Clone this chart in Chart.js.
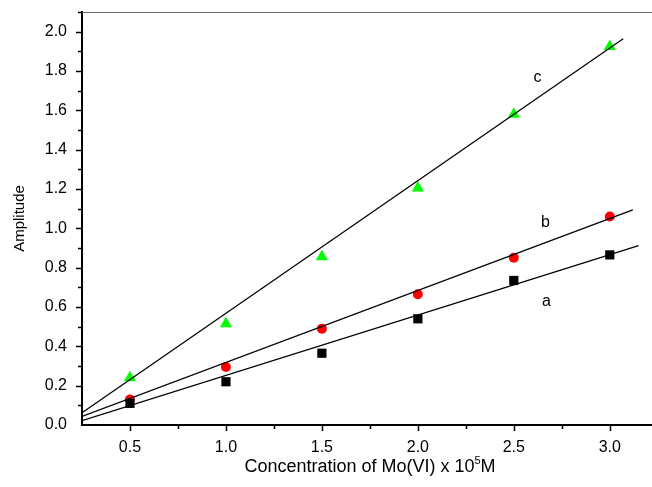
<!DOCTYPE html>
<html>
<head>
<meta charset="utf-8">
<script src="https://cdn.jsdelivr.net/npm/chart.js@4.4.0/dist/chart.umd.min.js"></script>
<style>
  html, body { margin: 0; padding: 0; background: #fff; overflow: hidden; }
  #wrap { width: 652px; height: 487px; position: relative; }
</style>
</head>
<body>
<div id="wrap"><canvas id="myChart"></canvas></div>
<script>
// values
const conc = [0.5, 1.0, 1.5, 2.0, 2.5, 3.0];
const ampA = [0.11, 0.22, 0.365, 0.54, 0.735, 0.865];
const ampB = [0.13, 0.295, 0.49, 0.665, 0.85, 1.06];
const ampC = [0.24, 0.515, 0.855, 1.205, 1.58, 1.925];

// fitted lines, end points (a, b, c)
const fitX0 = [0.25, 0.25, 0.25];
const fitY0 = [0.022, 0.044, 0.062];
const fitX1 = [3.15, 3.12, 3.07];
const fitY1 = [0.912, 1.094, 1.964];

const curveNames = ['a', 'b', 'c'];
const curveLabelX = [2.67, 2.665, 2.623];
const curveLabelY = [0.629, 1.027, 1.768];

const xTitle = 'Concentration of Mo(VI) x 10';
const xTitleSup = '5';
const xTitleEnd = 'M';

const FONT = '"Liberation Sans", Arial, sans-serif';

function pts(xs, ys) {
    return xs.map((x, i) => ({ x: x, y: ys[i] }));
}

// tick marks, curve letters, top frame line and x title
const extras = {
    id: 'extras',
    afterDraw(chart) {
        const c = chart.ctx;
        const area = chart.chartArea;
        const xs = chart.scales.x, ys = chart.scales.y;
        c.save();
        c.strokeStyle = '#000';
        c.lineWidth = 1.5;
        xs.ticks.forEach(t => {
            const px = Math.round(xs.getPixelForValue(t.value)) + 0.5;
            if (px <= area.left + 1) return;
            const len = t.label ? 6 : 4;
            c.beginPath();
            c.moveTo(px, area.bottom);
            c.lineTo(px, area.bottom + len);
            c.stroke();
        });
        ys.ticks.forEach(t => {
            const py = Math.round(ys.getPixelForValue(t.value)) + 0.5;
            if (py >= area.bottom - 1) return;
            const len = t.label ? 6 : 4;
            c.beginPath();
            c.moveTo(area.left, py);
            c.lineTo(area.left - len, py);
            c.stroke();
        });
        // top frame
        c.strokeStyle = '#666';
        c.lineWidth = 1;
        c.beginPath();
        c.moveTo(area.left, area.top + 0.5);
        c.lineTo(area.right, area.top + 0.5);
        c.stroke();

        c.fillStyle = '#000';
        c.font = '16px ' + FONT;
        c.textAlign = 'center';
        c.textBaseline = 'middle';
        curveNames.forEach((n, i) => {
            c.fillText(n, xs.getPixelForValue(curveLabelX[i]), ys.getPixelForValue(curveLabelY[i]));
        });

        // x title with superscript
        c.textAlign = 'left';
        c.textBaseline = 'alphabetic';
        const big = '18px ' + FONT, small = '11px ' + FONT;
        c.font = big;
        const w1 = c.measureText(xTitle).width;
        const w3 = c.measureText(xTitleEnd).width;
        c.font = small;
        const w2 = c.measureText(xTitleSup).width;
        let x0 = 370 - (w1 + w2 + w3) / 2;
        const base = 472;
        c.font = big;
        c.fillText(xTitle, x0, base);
        c.font = small;
        c.fillText(xTitleSup, x0 + w1, base - 8);
        c.font = big;
        c.fillText(xTitleEnd, x0 + w1 + w2, base);
        c.restore();
    }
};

const lineStyle = {
    showLine: true,
    borderColor: '#000',
    borderWidth: 1.3,
    pointRadius: 0,
    fill: false,
    order: 0
};

const ctx = document.getElementById('myChart').getContext('2d');
const myChart = new Chart(ctx, {
    type: 'scatter',
    data: {
        datasets: [
            { label: 'a', data: pts(conc, ampA), pointStyle: 'rect', pointRadius: 6.5,
              backgroundColor: '#000', borderColor: '#000', borderWidth: 0, order: 1 },
            { label: 'b', data: pts(conc, ampB), pointStyle: 'circle', pointRadius: 5,
              backgroundColor: '#ff0000', borderColor: '#ff0000', borderWidth: 0, order: 1 },
            { label: 'c', data: pts(conc, ampC), pointStyle: 'triangle', pointRadius: 7,
              backgroundColor: '#00ff00', borderColor: '#00ff00', borderWidth: 0, order: 1 },
            Object.assign({ label: 'fit a', data: [{ x: fitX0[0], y: fitY0[0] }, { x: fitX1[0], y: fitY1[0] }] }, lineStyle),
            Object.assign({ label: 'fit b', data: [{ x: fitX0[1], y: fitY0[1] }, { x: fitX1[1], y: fitY1[1] }] }, lineStyle),
            Object.assign({ label: 'fit c', data: [{ x: fitX0[2], y: fitY0[2] }, { x: fitX1[2], y: fitY1[2] }] }, lineStyle)
        ]
    },
    options: {
        responsive: true,
        maintainAspectRatio: false,
        animation: false,
        layout: { autoPadding: false, padding: { top: 12, right: 0, bottom: 0, left: 0 } },
        plugins: {
            legend: { display: false },
            tooltip: { enabled: false }
        },
        scales: {
            x: {
                type: 'linear',
                min: 0.25,
                max: 3.22,
                border: { display: true, color: '#000', width: 2 },
                grid: { display: true, drawOnChartArea: false, drawTicks: false },
                ticks: {
                    stepSize: 0.25,
                    includeBounds: false,
                    autoSkip: false,
                    maxRotation: 0,
                    padding: 13,
                    color: '#000',
                    font: { family: FONT, size: 16 },
                    callback: v => (Math.round(v * 4) % 2 === 0 ? v.toFixed(1) : '')
                },
                afterFit: s => { s.height = 62; s.paddingLeft = 0; s.paddingRight = 0; }
            },
            y: {
                type: 'linear',
                min: 0,
                max: 2.1,
                border: { display: true, color: '#000', width: 2 },
                grid: { display: true, drawOnChartArea: false, drawTicks: false },
                title: {
                    display: true,
                    text: 'Amplitude',
                    color: '#000',
                    font: { family: FONT, size: 15 },
                    padding: { top: 11, bottom: 0 }
                },
                ticks: {
                    stepSize: 0.1,
                    includeBounds: false,
                    autoSkip: false,
                    padding: 15,
                    color: '#000',
                    font: { family: FONT, size: 16 },
                    callback: v => (Math.round(v * 10) % 2 === 0 ? v.toFixed(1) : '')
                },
                afterFit: s => { s.width = 82; s.paddingTop = 0; s.paddingBottom = 0; }
            }
        }
    },
    plugins: [extras]
});
</script>
</body>
</html>
